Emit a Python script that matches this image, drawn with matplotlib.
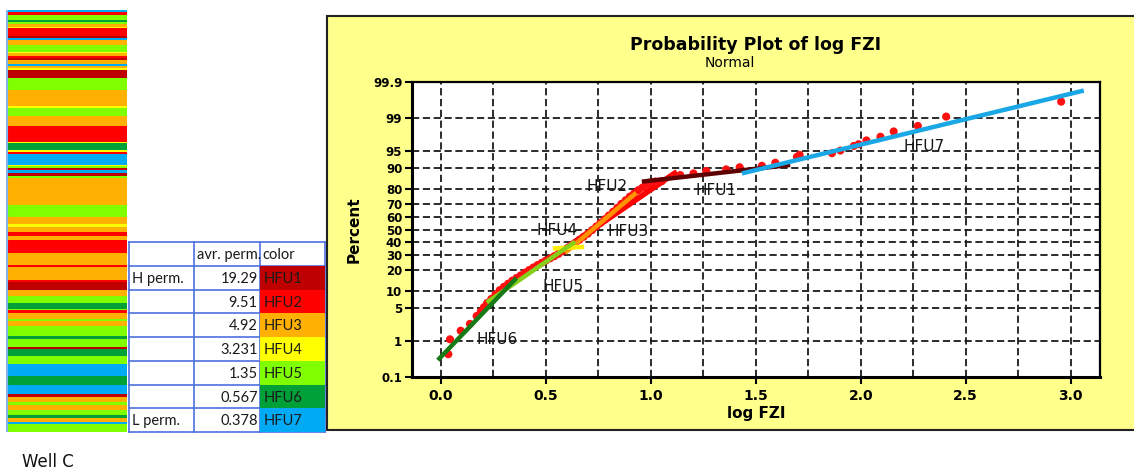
import numpy as np
import matplotlib
matplotlib.use('Agg')
import matplotlib.pyplot as plt
from matplotlib.patches import Rectangle
from statistics import NormalDist

# flow units: colour used in the log strip and the table
hfu_names = ['HFU1', 'HFU2', 'HFU3', 'HFU4', 'HFU5', 'HFU6', 'HFU7']
hfu_colors = ['#bf0000', '#ff0000', '#ffb000', '#ffff00', '#80ff00', '#00a038', '#00aaf5']
avg_perm = ['19.29', '9.51', '4.92', '3.231', '1.35', '0.567', '0.378']
perm_class = ['H perm.', '', '', '', '', '', 'L perm.']

# well C log strip: layer boundaries (relative depth) and the unit of each layer
strip_depth = [0, 2, 5, 10, 12, 13.5, 16.5, 17.5, 26, 28, 30, 35, 41.5, 43, 46, 48, 50,
               54, 56, 57.5, 59.5, 68, 80, 96, 98, 106, 115.5, 131.5, 133, 139.5, 141.5,
               143.5, 154.5, 156, 157.5, 160, 162.7, 165.5, 167.5, 195, 206.7, 214, 216.5,
               222, 225.5, 230, 243, 255, 257, 270, 272, 280, 286, 293, 298.5, 300, 303,
               308.5, 310.5, 316, 326, 328.7, 336.5, 338.5, 346, 353.5, 366, 375, 384,
               386.5, 391.5, 395, 400, 405, 407.5, 411.5, 414, 422]
strip_unit = [7, 2, 5, 6, 5, 3, 4, 2, 1, 7, 3, 5, 4, 3, 2, 1, 3, 7, 3, 4,
              1, 5, 3, 4, 5, 3, 2, 4, 6, 4, 2, 7, 4, 5, 1, 7, 1, 5, 3, 5,
              3, 4, 3, 2, 3, 2, 3, 2, 3, 2, 1, 3, 5, 6, 5, 2, 3, 5, 3, 5,
              6, 5, 1, 6, 5, 7, 6, 7, 1, 3, 5, 3, 5, 6, 3, 7, 5]

# probability plot samples: log FZI vs cumulative percent
log_fzi = [0.035, 0.043, 0.094, 0.138, 0.17, 0.19, 0.205, 0.22, 0.24, 0.26, 0.28, 0.30,
           0.32, 0.34, 0.36, 0.38, 0.40, 0.42, 0.44, 0.46, 0.48, 0.50, 0.52, 0.54, 0.56,
           0.58, 0.60, 0.62, 0.64, 0.66, 0.68, 0.70, 0.72, 0.74, 0.76, 0.78, 0.80, 0.82,
           0.84, 0.86, 0.88, 0.90, 0.92, 0.94, 0.96, 0.98, 1.00, 1.02, 1.052, 1.14, 1.203,
           1.264, 1.359, 1.423, 1.529, 1.593, 1.696, 1.709, 1.863, 1.903, 1.967, 1.99,
           2.027, 2.094, 2.157, 2.272, 2.407, 2.955]
percent = [0.45, 1.07, 1.7, 2.4, 3.5, 4.3, 5.2, 6.2, 7.3, 8.7, 10.2, 11.5,
           12.8, 14.2, 15.5, 16.8, 18.3, 19.8, 21.3, 22.8, 24.3, 25.8, 27.3, 28.8, 30.5,
           32.5, 34.5, 36.7, 39.0, 41.5, 44.0, 46.5, 49.5, 52.5, 55.5, 58.5, 61.5, 64.5,
           67.5, 70.5, 73.0, 75.5, 77.5, 79.5, 81.0, 82.5, 83.8, 84.2, 84.4, 87.3, 88.0,
           89.0, 89.6, 90.4, 90.9, 91.9, 93.6, 94.1, 94.5, 95.1, 96.0, 96.3,
           96.9, 97.4, 98.0, 98.5, 99.1, 99.63]

# fitted line of each unit: log FZI range and percent at the ends
fit_x = [(0.957, 1.664), (0.52, 1.124), (0.591, 0.93), (0.533, 0.682),
         (0.218, 0.639), (-0.015, 0.36), (1.434, 3.063)]
fit_p = [(84.2, 91.2), (27.0, 88.7), (31.3, 77.9), (34.5, 35.8),
         (6.3, 39.9), (0.31, 15.5), (88.0, 99.82)]
fit_colors = ['#5e0000', '#ff0000', '#ff9400', '#ffee00', '#86d01a', '#167a16', '#1aa7e6']

# label positions for the units on the plot
label_x = [1.211, 0.695, 0.793, 0.456, 0.485, 0.170, 2.203]
label_p = [79.2, 81.5, 48.2, 49.0, 11.5, 1.07, 95.9]

y_ticks = [0.1, 1, 5, 10, 20, 30, 40, 50, 60, 70, 80, 90, 95, 99, 99.9]
y_ticklabels = ['0.1', '1', '5', '10', '20', '30', '40', '50', '60', '70', '80', '90', '95', '99', '99.9']

_nd = NormalDist()


def pct_to_z(p):
    p = np.clip(np.asarray(p, dtype=float) / 100.0, 1e-9, 1 - 1e-9)
    return np.vectorize(_nd.inv_cdf, otypes=[float])(p)


def z_to_pct(z):
    return np.vectorize(_nd.cdf, otypes=[float])(np.asarray(z, dtype=float)) * 100.0


W, H = 1134, 474
fig = plt.figure(figsize=(W / 100, H / 100), dpi=100)


def box(x0, y0, x1, y1):
    # pixel box (from top-left) -> figure rect
    return [x0 / W, 1 - y1 / H, (x1 - x0) / W, (y1 - y0) / H]


# yellow background panel behind the probability plot
fig.patches.append(Rectangle((327 / W, 1 - 430 / H), (W + 20 - 327) / W, 414 / H,
                             transform=fig.transFigure, facecolor='#ffff8c',
                             edgecolor='#222222', lw=1.5, zorder=-5))

# --- log strip ---
ax_s = fig.add_axes(box(6, 10, 127, 432))
tops = np.array(strip_depth[:-1])
thick = np.diff(strip_depth)
cols = [hfu_colors[u - 1] for u in strip_unit]
ax_s.bar(np.zeros(len(tops)), thick, width=1, bottom=tops, align='edge', color=cols, lw=0)
ax_s.set_xlim(0, 1)
ax_s.set_ylim(strip_depth[-1], strip_depth[0])
ax_s.axis('off')
ax_s.axvline(0.005, color='#7fb4ee', lw=1.5)

# --- table ---
ax_t = fig.add_axes(box(129, 242, 325, 432))
ax_t.set_xlim(0, 3)
ax_t.set_ylim(8, 0)
ax_t.axis('off')
line_c = '#4d6fe0'
for r in range(9):
    ax_t.plot([0, 3], [r, r], color=line_c, lw=1.2, clip_on=False, zorder=1)
for c in range(4):
    ax_t.plot([c, c], [0, 8], color=line_c, lw=1.2, clip_on=False, zorder=1)
tfont = dict(family='Lato', fontsize=10.5, color='#1a1a1a')
ax_t.text(1.04, 0.55, 'avr. perm.', ha='left', va='center', **tfont)
ax_t.text(2.04, 0.55, 'color', ha='left', va='center', **tfont)
for i in range(7):
    r = i + 1
    ax_t.add_patch(Rectangle((2, r), 1, 1, facecolor=hfu_colors[i], edgecolor='none', zorder=2))
    ax_t.text(1.97, r + 0.55, avg_perm[i], ha='right', va='center', **tfont)
    ax_t.text(2.06, r + 0.55, hfu_names[i], ha='left', va='center', zorder=3, **tfont)
    if perm_class[i]:
        ax_t.text(0.05, r + 0.55, perm_class[i], ha='left', va='center', **tfont)

fig.text(22 / W, 1 - 462 / H, 'Well C', fontsize=12, ha='left', va='center', color='#111111')

# --- probability plot ---
ax = fig.add_axes(box(412, 82, 1100, 377))
ax.set_facecolor('white')
ax.set_yscale('function', functions=(pct_to_z, z_to_pct))
ax.set_xlim(-0.138, 3.14)
ax.set_ylim(0.1, 99.9)

ax.set_yticks(y_ticks)
ax.set_yticklabels(y_ticklabels)
ax.set_xticks(np.arange(0, 3.01, 0.5))
ax.set_xticklabels(['%.1f' % v for v in np.arange(0, 3.01, 0.5)])
ax.set_xticks(np.arange(0.25, 3.0, 0.5), minor=True)
ax.yaxis.set_minor_locator(matplotlib.ticker.NullLocator())
grid_kw = dict(color='#1a1a1a', lw=1.3, linestyle=(0, (4, 2)))
ax.grid(True, which='major', **grid_kw)
ax.grid(True, which='minor', axis='x', **grid_kw)
ax.tick_params(axis='both', which='major', direction='out', length=5, width=1.5, color='black')
ax.tick_params(axis='x', which='minor', length=0)
ax.tick_params(axis='y', labelsize=8.5, pad=2)
ax.tick_params(axis='x', labelsize=10, pad=4)
for lab in ax.get_xticklabels() + ax.get_yticklabels():
    lab.set_fontweight('bold')
for side in ['left', 'bottom']:
    ax.spines[side].set_linewidth(2.2)
for side in ['top', 'right']:
    ax.spines[side].set_linewidth(1.6)

# HFU2 line sits under the sample dots, the other fits on top
ax.plot(fit_x[1], fit_p[1], color=fit_colors[1], lw=4, solid_capstyle='butt', zorder=3)
ax.scatter(log_fzi, percent, s=34, color='#ff1010', edgecolors='none', zorder=4)
for i in [0, 2, 3, 4, 5, 6]:
    ax.plot(fit_x[i], fit_p[i], color=fit_colors[i], lw=3.2, solid_capstyle='butt', zorder=5)
for i in range(7):
    ax.text(label_x[i], label_p[i], hfu_names[i], fontsize=11, ha='left', va='center',
            color='#161616', zorder=6)

ax.set_xlabel('log FZI', fontsize=11, fontweight='bold', labelpad=2)
ax.set_ylabel('Percent', fontsize=11, fontweight='bold', labelpad=8)

fig.text(756 / W, 1 - 45 / H, 'Probability Plot of log FZI', fontsize=12.5,
         fontweight='bold', ha='center', va='center')
fig.text(730 / W, 1 - 63 / H, 'Normal', fontsize=10, ha='center', va='center')

fig.savefig('out.png', dpi=100)
